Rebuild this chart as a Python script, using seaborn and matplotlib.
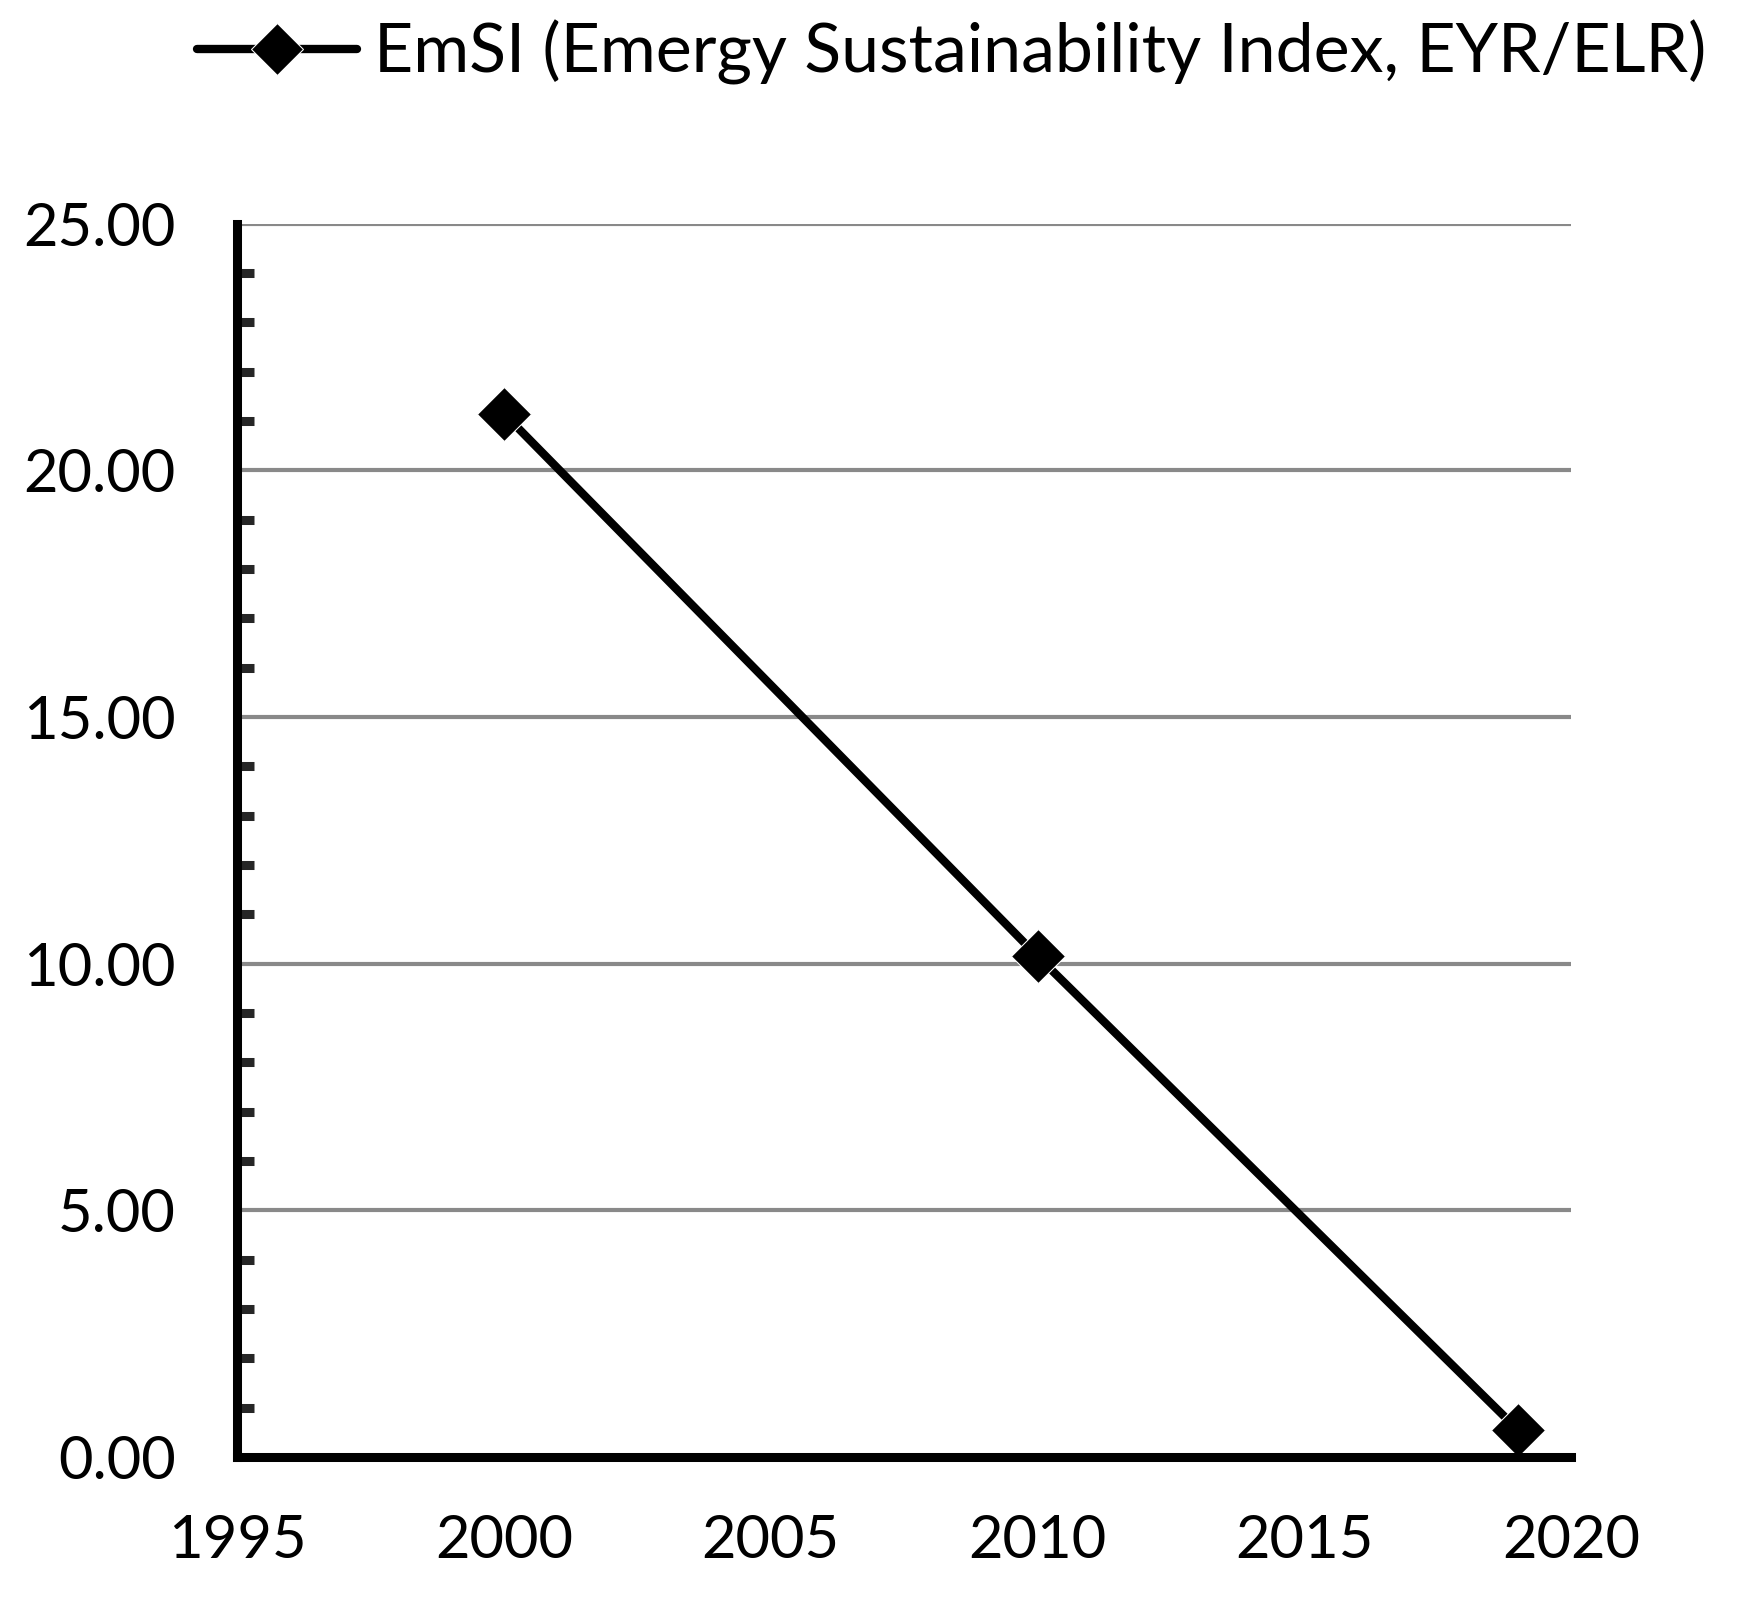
import numpy as np
import pandas as pd
import matplotlib
matplotlib.use("Agg")
import matplotlib.pyplot as plt
import seaborn as sns
from matplotlib.ticker import MultipleLocator, FormatStrFormatter

years = [2000, 2010, 2019]
emsi = [21.15, 10.15, 0.55]
series_name = "EmSI (Emergy Sustainability Index, EYR/ELR)"
x_ticks = [1995, 2000, 2005, 2010, 2015, 2020]
y_ticks = [0, 5, 10, 15, 20, 25]

sns.set_style("white")
plt.rcParams["font.family"] = ["Lato", "DejaVu Sans"]
plt.rcParams["text.color"] = "black"

df = pd.DataFrame({"Year": years, "EmSI": emsi, "Series": series_name})

fig = plt.figure(figsize=(17.42, 15.97), dpi=100)
ax = fig.add_axes([0.136, 0.0877, 0.766, 0.7723])

sns.lineplot(data=df, x="Year", y="EmSI", hue="Series", palette=["black"],
             marker="D", markersize=28, linewidth=6, ax=ax, legend=True)

ax.set_xlim(1995, 2020)
ax.set_ylim(0, 25)
ax.set_xticks(x_ticks)
ax.set_yticks(y_ticks)
ax.yaxis.set_minor_locator(MultipleLocator(1))
ax.yaxis.set_major_formatter(FormatStrFormatter("%.2f"))
ax.set_xlabel("")
ax.set_ylabel("")

ax.grid(axis="y", which="major", color="#898989", linewidth=3)
ax.set_axisbelow(True)
for s in ["top", "right"]:
    ax.spines[s].set_visible(False)
for s in ["left", "bottom"]:
    ax.spines[s].set_linewidth(6.5)
    ax.spines[s].set_color("black")

ax.tick_params(axis="y", which="major", direction="inout", length=28, width=6.5,
               labelsize=43, pad=30, colors="black")
ax.tick_params(axis="y", which="minor", direction="in", length=12, width=6.5, left=True)
ax.tick_params(axis="x", which="major", direction="out", length=15, width=6.5,
               labelsize=43, pad=26, colors="black")

ax.get_legend().remove()
handles, labels = ax.get_legend_handles_labels()
leg = fig.legend(handles, labels, loc="center left", bbox_to_anchor=(0.113, 0.967),
                 frameon=False, fontsize=49, handlelength=2.35, handletextpad=0.25,
                 borderpad=0, borderaxespad=0, labelcolor="black")
for h in leg.legend_handles:
    h.set_linewidth(6)
    h.set_markersize(26)

fig.savefig("out.png", dpi=100, facecolor="white")
